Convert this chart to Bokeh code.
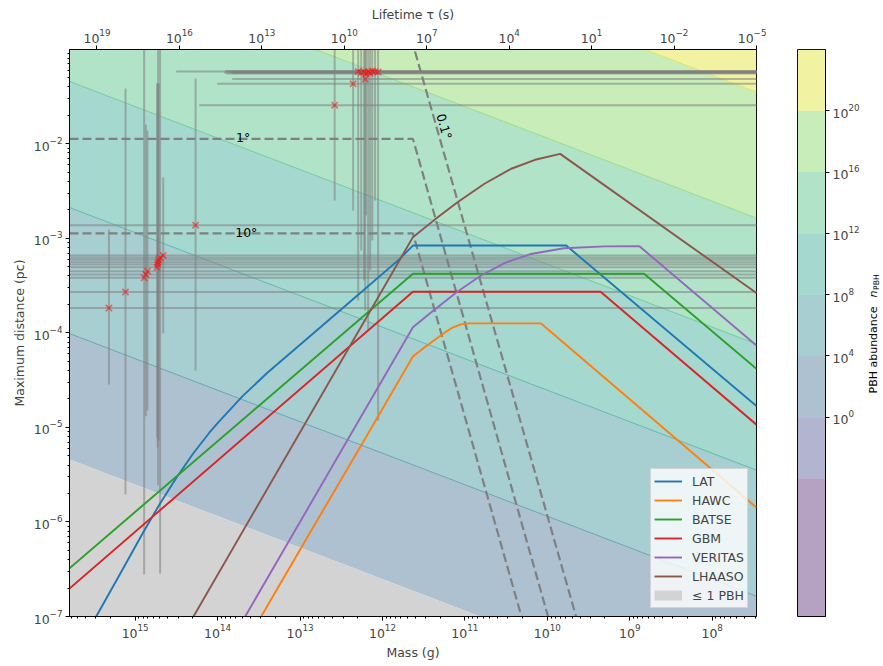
import math
from bokeh.plotting import figure
from bokeh.models import (Range1d, LogAxis, LogScale, FixedTicker, Legend,
                          LegendItem)
from bokeh.layouts import row
from bokeh.embed import file_html
from bokeh.resources import INLINE
from bokeh.core.properties import value
from bokeh.palettes import Viridis256

FONT = "DejaVu Sans"
FS = "12.5px"

# ---------------- axis limits / ticks ----------------
mass_limits = [6.26e15, 2.90e7]          # g  (heavy masses on the left)
distance_limits = [1.0e-7, 9.95e-2]      # pc
lifetime_limits = [1.0e20, 0.999e-5]     # s  (top axis)
mass_ticks = [1e15, 1e14, 1e13, 1e12, 1e11, 1e10, 1e9, 1e8]
distance_ticks = [1e-7, 1e-6, 1e-5, 1e-4, 1e-3, 1e-2]
lifetime_ticks = [1e19, 1e16, 1e13, 1e10, 1e7, 1e4, 1e1, 1e-2, 1e-5]
abundance_ticks = [1e0, 1e4, 1e8, 1e12, 1e16, 1e20]

# ---------------- PBH abundance bands ----------------
# distance of each abundance contour at the heavy (left) and light (right) plot edge
abundance_levels = [1e0, 1e4, 1e8, 1e12, 1e16, 1e20]
level_d_left = [4.57e-6, 9.84e-5, 2.12e-3, 4.57e-2, 0.984, 21.2]
level_d_right = [7.62e-9, 1.64e-7, 3.53e-6, 7.62e-5, 1.64e-3, 3.53e-2]
colorbar_bounds = [1e-13, 1e-4, 1e0, 1e4, 1e8, 1e12, 1e16, 1e20, 1e24]

# ---------------- detector sensitivity curves ----------------
lat_mass = [2.97e15, 1.58e15, 7.94e14, 5.01e14, 3.16e14, 2.00e14, 1.26e14, 1.00e14,
            5.01e13, 2.51e13, 1.00e13, 2.51e12, 6.31e11, 4.27e11, 5.89e9, 2.90e7]
lat_dist = [1.0e-7, 2.67e-7, 7.83e-7, 1.56e-6, 2.94e-6, 5.24e-6, 8.79e-6, 1.11e-5,
            2.13e-5, 3.76e-5, 7.50e-5, 2.11e-4, 5.96e-4, 8.39e-4, 8.39e-4, 1.68e-5]
hawc_mass = [2.96e13, 6.31e12, 1.58e12, 4.27e11, 3.16e11, 2.38e11, 1.78e11, 1.41e11,
             1.12e11, 8.91e10, 1.19e10, 2.90e7]
hawc_dist = [1.0e-7, 1.01e-6, 7.92e-6, 5.62e-5, 6.92e-5, 8.30e-5, 1.00e-4, 1.14e-4,
             1.23e-4, 1.26e-4, 1.26e-4, 1.42e-6]
batse_mass = [6.26e15, 4.27e11, 6.70e8, 2.90e7]
batse_dist = [3.24e-7, 4.22e-4, 4.22e-4, 4.17e-5]
gbm_mass = [6.26e15, 4.27e11, 2.26e9, 2.90e7]
gbm_dist = [1.98e-7, 2.72e-4, 2.72e-4, 1.07e-5]
veritas_mass = [4.63e13, 3.98e12, 4.27e11, 2.51e11, 1.26e11, 6.31e10, 3.16e10, 1.58e10,
                6.31e9, 2.00e9, 7.64e8, 2.90e7]
veritas_dist = [1.0e-7, 4.00e-6, 1.15e-4, 1.67e-4, 2.69e-4, 4.07e-4, 5.56e-4, 6.84e-4,
                7.85e-4, 8.22e-4, 8.26e-4, 7.35e-5]
lhaaso_mass = [1.96e14, 4.27e11, 2.38e11, 1.23e11, 5.79e10, 2.74e10, 1.41e10, 6.98e9,
               2.90e7]
lhaaso_dist = [1.0e-7, 1.03e-3, 1.55e-3, 2.41e-3, 3.78e-3, 5.45e-3, 6.78e-3, 7.83e-3,
               2.64e-4]

# ---------------- angular-resolution limits (dashed) ----------------
res01_mass = [6.26e15, 4.27e11, 4.48e9]
res01_dist = [0.113, 0.113, 1.0e-7]
res1_mass = [6.26e15, 4.27e11, 9.80e9]
res1_dist = [1.13e-2, 1.13e-2, 1.0e-7]
res10_mass = [6.26e15, 4.27e11, 2.06e10]
res10_dist = [1.13e-3, 1.13e-3, 1.0e-7]

# ---------------- events with error bars ----------------
ev_mass = [2.08e15, 1.31e15, 7.78e14, 7.41e14, 7.09e14, 5.41e14, 5.33e14, 5.26e14,
           5.19e14, 4.98e14, 4.57e14, 1.85e14,
           3.80e12, 2.27e12, 1.97e12, 1.81e12, 1.67e12, 1.58e12, 1.49e12, 1.41e12,
           1.33e12, 1.23e12, 1.13e12, 1.62e12]
ev_dist = [1.83e-4, 2.70e-4, 3.83e-4, 4.15e-4, 4.49e-4, 4.95e-4, 5.28e-4, 5.60e-4,
           5.93e-4, 6.22e-4, 6.59e-4, 1.38e-3,
           2.56e-2, 4.32e-2, 5.82e-2, 5.68e-2, 5.75e-2, 5.55e-2, 5.75e-2, 5.61e-2,
           5.89e-2, 5.82e-2, 5.75e-2, 4.84e-2]
ev_mass_hi = [1e17] * 12 + [1.67e14, 1.01e14, 3.18e14, 8.32e13, 7.05e13, 7.87e13,
                            5.32e13, 6.65e13, 8.09e13, 7.45e13, 6.12e13, 6.65e13]
ev_mass_lo = [1e6] * 24
ev_dist_lo = [2.84e-5, 1.95e-6, 2.78e-7, 1.31e-5, 1.51e-5, 7.81e-6, 6.14e-6, 2.43e-6,
              7.28e-6, 2.85e-7, 9.84e-5, 4.00e-5,
              2.51e-3, 1.97e-3, 2.20e-4, 7.43e-4, 3.58e-4, 1.75e-3, 1.06e-4, 4.57e-4,
              9.48e-4, 2.51e-3, 1.18e-5, 1.73e-4]
ev_dist_hi = [1.24e-3, 3.85e-2, 0.2, 1.60e-2, 1.38e-2, 4.35e-2, 4.35e-2, 0.2,
              4.35e-2, 0.2, 4.41e-3, 4.91e-2] + [0.2] * 12

# ---------------- figure ----------------
FRAME_W, FRAME_H = 687, 567
TOP, BOTTOM = 49, 48

p = figure(x_axis_type="log", y_axis_type="log",
           x_range=Range1d(mass_limits[0], mass_limits[1]),
           y_range=Range1d(distance_limits[0], distance_limits[1]),
           frame_width=FRAME_W, frame_height=FRAME_H,
           min_border_left=69, min_border_right=10, min_border_top=TOP,
           min_border_bottom=BOTTOM,
           output_backend="svg", toolbar_location=None)
p.grid.visible = False
p.outline_line_color = "black"
p.outline_line_alpha = 1.0
bottom_axis = p.xaxis[0]
left_axis = p.yaxis[0]

band_pos = [0.05, 0.2, 0.32, 0.45, 0.56, 0.68, 0.8, 0.95]
band_colors = [Viridis256[int(round(t * 255))] for t in band_pos]

# abundance bands (n = 1 ... >1e20)
xs, ys, cols = [], [], []
edge_m = [mass_limits[0], mass_limits[1]]
for i in range(len(abundance_levels)):
    lo_l, lo_r = level_d_left[i], level_d_right[i]
    if i + 1 < len(abundance_levels):
        hi_l, hi_r = level_d_left[i + 1], level_d_right[i + 1]
    else:
        hi_l, hi_r = 1e4, 1e4
    xs.append([edge_m[0], edge_m[1], edge_m[1], edge_m[0]])
    ys.append([lo_l, lo_r, hi_r, hi_l])
    cols.append(band_colors[i + 2])
p.patches(xs, ys, fill_color=cols, fill_alpha=0.4, line_color=None)
# faint contour edges
p.multi_line([edge_m] * (len(abundance_levels) - 1),
             [[level_d_left[i], level_d_right[i]] for i in range(1, len(abundance_levels))],
             line_color=band_colors[3:], line_alpha=0.5, line_width=1)

# <= 1 PBH region
p.patch([edge_m[0], edge_m[1], edge_m[1], edge_m[0]],
        [level_d_left[0], level_d_right[0], 1e-12, 1e-12],
        fill_color="lightgray", fill_alpha=1.0, line_color=None)

# event error bars
p.segment(x0=ev_mass, y0=ev_dist_lo, x1=ev_mass, y1=ev_dist_hi,
          line_color="gray", line_alpha=0.55, line_width=2)
p.segment(x0=ev_mass_hi, y0=ev_dist, x1=ev_mass_lo, y1=ev_dist,
          line_color="gray", line_alpha=0.55, line_width=2)
p.scatter(ev_mass, ev_dist, marker="x", size=9, line_color="red",
          line_alpha=0.5, line_width=1.6)

# angular resolution limits
for m, d in [(res01_mass, res01_dist), (res1_mass, res1_dist), (res10_mass, res10_dist)]:
    p.line(m, d, line_color="gray", line_dash="9 4", line_width=2.2)

p.text(x=[5.96e13, 6.12e13], y=[1.13e-2, 1.13e-3], text=["1°", "10°"],
       text_font=value(FONT), text_font_size=value(FS), text_color="black",
       text_align="left", text_baseline="alphabetic", y_offset=-1)
p.text(x=[2.18e11], y=[1.45e-2], text=["0.1°"], angle=-1.29,
       text_font=value(FONT), text_font_size=value(FS), text_color="black",
       text_align="center", text_baseline="bottom")

# detector curves
detectors = [("LAT", lat_mass, lat_dist, "#1f77b4"),
             ("HAWC", hawc_mass, hawc_dist, "#ff7f0e"),
             ("BATSE", batse_mass, batse_dist, "#2ca02c"),
             ("GBM", gbm_mass, gbm_dist, "#d62728"),
             ("VERITAS", veritas_mass, veritas_dist, "#9467bd"),
             ("LHAASO", lhaaso_mass, lhaaso_dist, "#8c564b")]
items = []
for name, m, d, c in detectors:
    r = p.line(m, d, line_color=c, line_width=1.9)
    items.append(LegendItem(label=name, renderers=[r]))
# legend swatch for the grey region (drawn outside the visible range)
swatch = p.line(x=[1e20, 1e21], y=[1e5, 1e5], line_color="lightgray",
                line_width=10, line_cap="butt")
items.append(LegendItem(label="≤ 1 PBH", renderers=[swatch]))

legend = Legend(items=items, location="bottom_right",
                label_text_font=FONT, label_text_font_size=FS,
                glyph_width=28, glyph_height=18, label_height=18, spacing=1,
                label_standoff=10, padding=3, margin=8,
                background_fill_color="white", background_fill_alpha=0.8,
                border_line_color="#cccccc", border_line_alpha=0.8)
p.add_layout(legend)

# top lifetime axis
p.extra_x_ranges = {"tau": Range1d(lifetime_limits[0], lifetime_limits[1])}
p.extra_x_scales = {"tau": LogScale()}
top_axis = LogAxis(x_range_name="tau", axis_label="Lifetime τ (s)")
p.add_layout(top_axis, "above")
top_axis.ticker = FixedTicker(ticks=lifetime_ticks, minor_ticks=[])

bottom_axis.axis_label = "Mass (g)"
left_axis.axis_label = "Maximum distance (pc)"
bottom_axis.ticker = FixedTicker(ticks=mass_ticks,
                                 minor_ticks=[k * 10.0 ** e for e in range(7, 16) for k in range(2, 10)])
left_axis.ticker = FixedTicker(ticks=distance_ticks,
                               minor_ticks=[k * 10.0 ** e for e in range(-8, 0) for k in range(2, 10)])


def style_axis(ax):
    ax.axis_label_text_font = FONT
    ax.axis_label_text_font_size = FS
    ax.axis_label_text_font_style = "normal"
    ax.major_label_text_font = FONT
    ax.major_label_text_font_size = FS
    ax.major_tick_in = 0
    ax.major_tick_out = 4
    ax.minor_tick_in = 0
    ax.minor_tick_out = 2
    ax.axis_line_color = "black"
    ax.major_tick_line_color = "black"
    ax.minor_tick_line_color = "black"
    ax.major_label_standoff = 3
    ax.axis_label_standoff = 4


for ax in [bottom_axis, left_axis, top_axis]:
    style_axis(ax)

# ---------------- colour bar ----------------
cb = figure(y_axis_type="log", x_range=Range1d(0, 1),
            y_range=Range1d(colorbar_bounds[0], colorbar_bounds[-1]),
            frame_width=28, frame_height=FRAME_H, x_axis_location=None, y_axis_location="right",
            min_border_left=31, min_border_right=38, min_border_top=TOP,
            min_border_bottom=BOTTOM, output_backend="svg", toolbar_location=None)
cb.grid.visible = False
cb.outline_line_color = "black"
cb.quad(left=0, right=1, bottom=colorbar_bounds[:-1], top=colorbar_bounds[1:],
        fill_color=band_colors, fill_alpha=0.4, line_color=None)
cb.yaxis.ticker = FixedTicker(ticks=abundance_ticks, minor_ticks=[])
for ax in cb.axis:
    style_axis(ax)

# ---------------- colour bar title (rotated, with subscript) ----------------
lab = figure(x_range=Range1d(0, 20), y_range=Range1d(0, FRAME_H),
             frame_width=20, frame_height=FRAME_H,
             x_axis_location=None, y_axis_location=None,
             min_border_left=0, min_border_right=0, min_border_top=TOP,
             min_border_bottom=BOTTOM, output_backend="svg", toolbar_location=None)
lab.grid.visible = False
lab.outline_line_color = None
lab.text(x=[10], y=[223], text=["PBH abundance"], angle=math.pi / 2,
         text_font=value(FONT), text_font_size=value("11px"), text_color="black",
         text_align="left", text_baseline="middle")
lab.text(x=[10], y=[319], text=["n"], angle=math.pi / 2,
         text_font=value(FONT), text_font_size=value("11px"), text_font_style="italic",
         text_color="black", text_align="left", text_baseline="middle")
lab.text(x=[12.5], y=[326.5], text=["PBH"], angle=math.pi / 2,
         text_font=value(FONT), text_font_size=value("7.7px"), text_color="black",
         text_align="left", text_baseline="middle")

layout = row(p, cb, lab)
open("out.html", "w").write(file_html(layout, INLINE))
